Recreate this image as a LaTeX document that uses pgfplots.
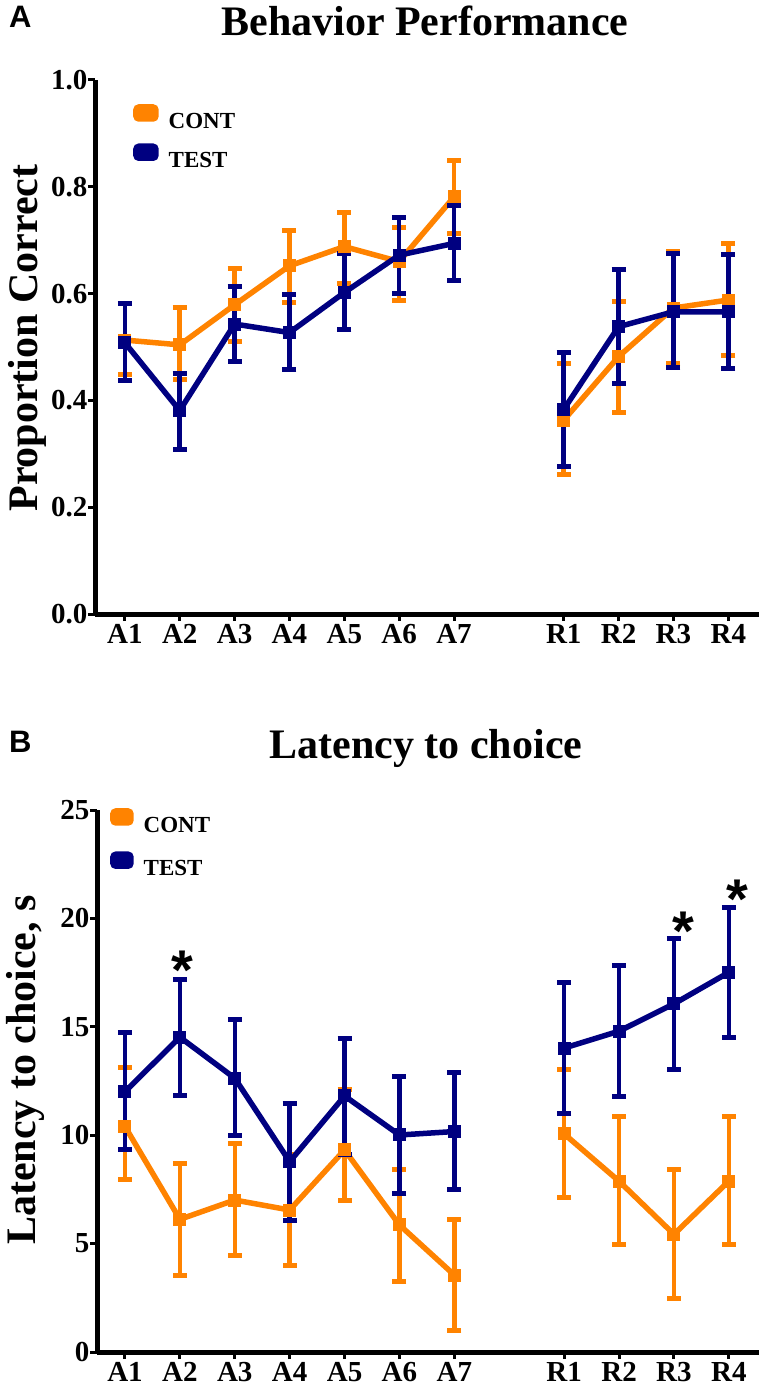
\documentclass[border=0pt]{standalone}
\usepackage{fontspec}
\setmainfont{Liberation Serif}
\newfontfamily\arial{Liberation Sans}
\usepackage{pgfplots}
\usepackage{pgfplotstable}
\pgfplotsset{compat=1.18}
\definecolor{cont}{RGB}{255,131,0}
\definecolor{test}{RGB}{0,0,128}

% Panel A: proportion correct (x, mean, +err, -err)
\pgfplotstableread{
x y ep em
1 0.513 0.069 0.065
2 0.504 0.070 0.064
3 0.579 0.068 0.068
4 0.652 0.067 0.068
5 0.688 0.063 0.070
6 0.660 0.064 0.072
7 0.781 0.068 0.068
8 nan 0 0
9 0.363 0.106 0.101
10 0.482 0.103 0.105
11 0.573 0.105 0.104
12 0.588 0.106 0.103
}\contA
\pgfplotstableread{
x y ep em
1 0.508 0.074 0.070
2 0.381 0.070 0.073
3 0.543 0.070 0.071
4 0.527 0.072 0.070
5 0.602 0.073 0.069
6 0.672 0.071 0.072
7 0.694 0.071 0.070
8 nan 0 0
9 0.383 0.107 0.106
10 0.538 0.107 0.106
11 0.566 0.109 0.104
12 0.566 0.108 0.106
}\testA
% Panel B: latency to choice (s)
\pgfplotstableread{
x y ep em
1 10.40 2.74 2.46
2 6.12 2.59 2.57
3 7.01 2.62 2.58
4 6.55 2.58 2.58
5 9.32 2.80 2.34
6 5.86 2.57 2.61
7 3.55 2.57 2.57
8 nan 0 0
9 10.06 2.95 2.94
10 7.88 2.99 2.93
11 5.43 2.98 2.98
12 7.88 2.99 2.93
}\contB
\pgfplotstableread{
x y ep em
1 12.01 2.73 2.69
2 14.52 2.68 2.71
3 12.63 2.69 2.66
4 8.78 2.70 2.72
5 11.81 2.63 2.72
6 10.01 2.70 2.69
7 10.17 2.72 2.66
8 nan 0 0
9 14.02 3.03 3.02
10 14.80 3.02 3.00
11 16.06 3.00 3.01
12 17.51 3.00 3.02
}\testB

\pgfplotsset{
  myaxis/.style={
    scale only axis, anchor=south west,
    axis x line*=bottom, axis y line*=left,
    axis line style={line width=5pt, black},
    tick align=outside, major tick length=7pt,
    tick style={line width=3pt, black},
    xtick={1,2,3,4,5,6,7,9,10,11,12},
    xticklabels={A1,A2,A3,A4,A5,A6,A7,R1,R2,R3,R4},
    ticklabel style={font=\fontsize{29}{29}\selectfont\bfseries},
    yticklabel style={xshift=3pt},
    /pgf/number format/assume math mode=true,
    unbounded coords=jump,
    clip=false,
    legend cell align=left,
  },
  ser/.style={line width=5.5pt, color=#1, mark=square*, mark size=6pt,
    mark options={solid, fill=#1, line width=1pt},
    error bars/y dir=both, error bars/y explicit,
    error bars/error bar style={line width=4.5pt, color=#1},
    error bars/error mark options={rotate=90, mark size=7pt, line width=5pt, color=#1}},
}

\begin{document}
\begin{tikzpicture}
% ---------- Panel A ----------
\begin{axis}[myaxis,
  at={(95pt,-614pt)}, width=664pt, height=534pt,
  xmin=0.455, xmax=12.56, ymin=0, ymax=1,
  ytick={0,0.2,0.4,0.6,0.8,1},
  yticklabel style={/pgf/number format/.cd, fixed, fixed zerofill, precision=1},
  legend style={draw=none, fill=none, at={(0.0572,0.955)}, anchor=north west,
    inner sep=0pt, row sep=15pt, column sep=10pt,
    font=\fontsize{23}{23}\selectfont\bfseries,
    nodes={inner sep=0pt, text height=15pt, text depth=0pt}},
]
\addplot[ser=cont, legend image code/.code={\fill[cont, rounded corners=3pt] (0pt,2pt) rectangle (20pt,14pt);}]
  table[x=x, y=y, y error plus=ep, y error minus=em] {\contA};
\addlegendentry{CONT}
\addplot[ser=test, legend image code/.code={\fill[test, rounded corners=3pt] (0pt,2pt) rectangle (20pt,14pt);}]
  table[x=x, y=y, y error plus=ep, y error minus=em] {\testA};
\addlegendentry{TEST}
\end{axis}

% ---------- Panel B ----------
\begin{axis}[myaxis,
  at={(97pt,-1352pt)}, width=662pt, height=542pt,
  xmin=0.49, xmax=12.55, ymin=0, ymax=25,
  ytick={0,5,10,15,20,25},
  legend style={draw=none, fill=none, at={(0.0196,1.0037)}, anchor=north west,
    inner sep=0pt, row sep=19pt, column sep=10pt,
    font=\fontsize{23}{23}\selectfont\bfseries,
    nodes={inner sep=0pt, text height=15pt, text depth=0pt}},
]
\addplot[ser=cont, legend image code/.code={\fill[cont, rounded corners=3pt] (0pt,2pt) rectangle (18pt,14pt);}]
  table[x=x, y=y, y error plus=ep, y error minus=em] {\contB};
\addlegendentry{CONT}
\addplot[ser=test, legend image code/.code={\fill[test, rounded corners=3pt] (0pt,2pt) rectangle (18pt,14pt);}]
  table[x=x, y=y, y error plus=ep, y error minus=em] {\testB};
\addlegendentry{TEST}
\addplot[draw=none, mark=none, point meta=y, forget plot,
  nodes near coords={*},
  every node near coord/.style={font=\arial\bfseries\fontsize{56}{56}\selectfont,
    anchor=center, inner sep=0pt, text=black, yshift=-13pt}]
  coordinates {(2.05,18.2) (11.17,20.0) (12.15,21.5)};
\end{axis}

% ---------- texts ----------
\node[anchor=base, font=\fontsize{42}{42}\selectfont\bfseries] at (425pt,-36pt) {Behavior Performance};
\node[anchor=base, font=\fontsize{42}{42}\selectfont\bfseries] at (426pt,-758pt) {Latency to choice};
\node[rotate=90, anchor=base, font=\fontsize{42}{42}\selectfont\bfseries] at (37pt,-338pt) {Proportion Correct};
\node[rotate=90, anchor=base, font=\fontsize{42}{42}\selectfont\bfseries] at (35pt,-1070pt) {Latency to choice, s};
\node[anchor=base west, inner sep=0pt, font=\arial\bfseries\fontsize{31}{31}\selectfont] at (9pt,-28pt) {A};
\node[anchor=base west, inner sep=0pt, font=\arial\bfseries\fontsize{31}{31}\selectfont] at (9pt,-752pt) {B};

\pgfresetboundingbox
\path[use as bounding box] (0pt,0pt) rectangle (759pt,-1399pt);
\end{tikzpicture}
\end{document}
